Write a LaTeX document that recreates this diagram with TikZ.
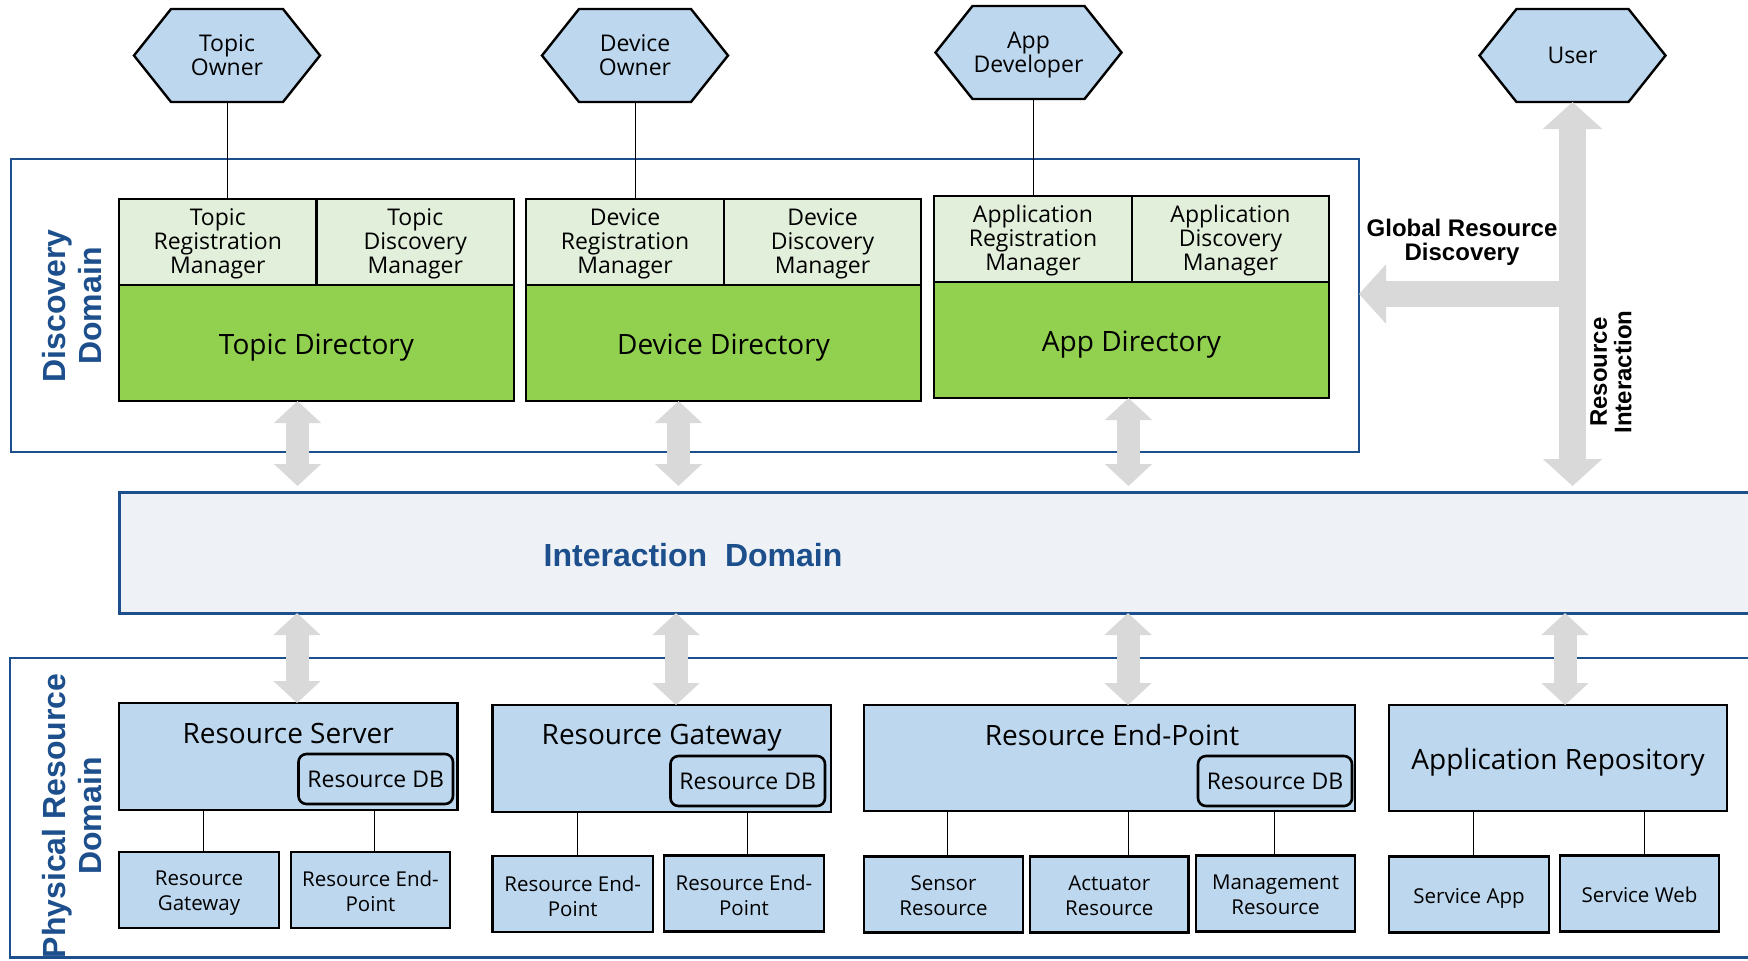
\documentclass[tikz,border=0pt]{standalone}
\usepackage{fontspec}
\setmainfont{Open Sans}
\newfontfamily\labelfont{Liberation Sans}
\usetikzlibrary{arrows.meta}

\definecolor{actorblue}{HTML}{BDD7EE}
\definecolor{mgrgreen}{HTML}{E2EFDA}
\definecolor{dirgreen}{HTML}{92D050}
\definecolor{domblue}{HTML}{1C4F8C}
\definecolor{intfill}{HTML}{EEF2F6}
\definecolor{arrowgray}{HTML}{D9D9D9}

% flat-topped hexagon actor: name, centre x, centre y, text
\newcommand\hexactor[4]{%
  \filldraw[hexshape] (#2-93,#3) -- (#2-56,#3-46.5) -- (#2+56,#3-46.5) -- (#2+93,#3)
    -- (#2+56,#3+46.5) -- (#2-56,#3+46.5) -- cycle;
  \node[hextext] (#1) at (#2,#3) {#4};}

\begin{document}
\begin{tikzpicture}[x=0.5pt, y=-0.5pt,
  hexshape/.style={draw=black, line width=1.2pt, fill=actorblue, line join=miter},
  hextext/.style={minimum width=93pt, minimum height=46.5pt, inner sep=0pt, outer sep=0pt,
    align=center, font=\fontsize{11.5}{12}\selectfont},
  mgr/.style={draw=black, line width=1.3pt, fill=mgrgreen, inner sep=0pt, outer sep=0pt,
    align=center, minimum height=43pt, font=\fontsize{11.5}{12}\selectfont},
  mgrtext/.style={inner sep=0pt, align=center, font=\fontsize{11.5}{12}\selectfont},
  directory/.style={draw=black, line width=1.3pt, fill=dirgreen, inner sep=0pt, outer sep=0pt,
    minimum width=197.5pt, minimum height=58pt},
  dirtext/.style={inner sep=0pt, font=\fontsize{14}{16}\selectfont},
  pbox/.style={draw=black, line width=1.3pt, fill=actorblue, inner sep=0pt, outer sep=0pt,
    minimum height=53.5pt},
  ptitle/.style={inner sep=0pt, font=\fontsize{14}{16}\selectfont},
  dbbox/.style={draw=black, line width=1.3pt, fill=actorblue, rounded corners=4pt,
    inner sep=0pt, outer sep=0pt, minimum width=77.25pt, minimum height=25pt,
    font=\fontsize{11.5}{12}\selectfont},
  subbox/.style={draw=black, line width=1.3pt, fill=actorblue, inner sep=0pt, outer sep=0pt,
    minimum width=80pt, minimum height=38pt},
  subtext/.style={inner sep=0pt, align=center, font=\fontsize{10.25}{12.5}\selectfont},
  domainbox/.style={draw=domblue, line width=1.15pt, inner sep=0pt, outer sep=0pt},
  domtext/.style={text=domblue, align=center, inner sep=0pt,
    font=\labelfont\bfseries\fontsize{16}{18}\selectfont},
  blacklabel/.style={align=center, inner sep=0pt,
    font=\labelfont\bfseries\fontsize{12}{12.2}\selectfont},
  link/.style={draw=black, line width=0.5pt},
  bigarrow/.style={draw=arrowgray, line width=13.5pt,
    {Triangle[length=13.5pt,width=29pt]}-{Triangle[length=13.5pt,width=29pt]}},
  sidearrow/.style={draw=arrowgray, line width=13pt, -{Triangle[length=13.5pt,width=29pt]}},
  midarrow/.style={draw=arrowgray, line width=11.5pt,
    {Triangle[length=11pt,width=23pt]}-{Triangle[length=11pt,width=23pt]}}
]
\useasboundingbox (0,0) rectangle (1748,960);

% ---------- domains ----------
\node[domainbox, minimum width=674.15pt, minimum height=146.5pt] (disc) at (684.85,305.5) {};
\node[domtext, rotate=90] (disc-t) at (72,306) {Discovery\\Domain};

\node[domainbox, line width=1.5pt, fill=intfill,
      minimum width=820.5pt, minimum height=60.5pt] (inter) at (939.5,552.5) {};
\node[text=domblue, inner sep=0pt, font=\labelfont\bfseries\fontsize{16}{18}\selectfont]
      (inter-t) at (693,555) {Interaction\ \ Domain};

\node[domainbox, minimum width=875pt, minimum height=149.75pt] (phys) at (885,807.75) {};
\node[domtext, rotate=90] (phys-t) at (72,816) {Physical Resource\\Domain};

% ---------- actors ----------
\hexactor{topicowner}{227}{55.5}{Topic\\Owner}
\hexactor{devowner}{635}{55.5}{Device\\Owner}
\hexactor{appdev}{1028.5}{52.5}{}
\node[hextext, minimum width=0pt, minimum height=0pt] (appdev-t) at (1028.5,55) {App\\Developer};
\hexactor{user}{1572.5}{55.5}{User}

% ---------- directories and managers ----------
\node[mgr, minimum width=98.75pt] (topicreg) at (217.75,242) {};
\node[mgr, minimum width=98.75pt] (topicdisc) at (415.25,242) {};
\node[directory] (topicdir) at (316.5,343) {};
\node[mgrtext] (topicreg-t) at (217.75,244) {Topic\\Registration\\Manager};
\node[mgrtext] (topicdisc-t) at (415.25,244) {Topic\\Discovery\\Manager};
\node[dirtext] (topicdir-t) at (316.5,347.5) {Topic Directory};

\node[mgr, minimum width=99pt] (devreg) at (625,242) {};
\node[mgr, minimum width=98.5pt] (devdisc) at (822.5,242) {};
\node[directory] (devdir) at (723.5,343) {};
\node[mgrtext] (devreg-t) at (625,244) {Device\\Registration\\Manager};
\node[mgrtext] (devdisc-t) at (822.5,244) {Device\\Discovery\\Manager};
\node[dirtext] (devdir-t) at (723.5,347.5) {Device Directory};

\node[mgr, minimum width=99pt] (appreg) at (1033,239) {};
\node[mgr, minimum width=98.5pt] (appdisc) at (1230.5,239) {};
\node[directory] (appdir) at (1131.5,340) {};
\node[mgrtext] (appreg-t) at (1033,241) {Application\\Registration\\Manager};
\node[mgrtext] (appdisc-t) at (1230.5,241) {Application\\Discovery\\Manager};
\node[dirtext] (appdir-t) at (1131.5,344.5) {App Directory};

\draw[link] (topicowner.south) -- (topicowner.south |- topicreg.north);
\draw[link] (devowner.south) -- (devowner.south |- devreg.north);
\draw[link] (appreg.north) -- (appreg.north |- appdev.south);

% ---------- physical resources ----------
\node[pbox, minimum width=169.25pt] (rs) at (288.25,756.5) {};
\node[ptitle] (rs-t) at (288.25,733) {Resource Server};
\node[dbbox] (rs-db) at (375.75,779) {Resource DB};

\node[pbox, minimum width=169.25pt] (rg) at (661.75,758.5) {};
\node[ptitle] (rg-t) at (661.75,737.5) {Resource Gateway};
\node[dbbox] (rg-db) at (747.75,781) {Resource DB};

\node[pbox, minimum width=245.5pt, minimum height=53pt] (rep) at (1109.5,758) {};
\node[ptitle] (rep-t) at (1112,734.5) {Resource End-Point};
\node[dbbox, minimum width=77pt] (rep-db) at (1275,781) {Resource DB};

\node[pbox, minimum width=169pt, minimum height=53pt] (ar) at (1558,758) {};
\node[ptitle] (ar-t) at (1558,762.5) {Application Repository};

\node[subbox] (rs-gw) at (199,890) {};
\node[subbox, minimum width=79.5pt] (rs-ep) at (370.5,890) {};
\node[subbox, minimum width=80.25pt] (rg-ep1) at (572.75,894) {};
\node[subbox] (rg-ep2) at (744,893.5) {};
\node[subbox, minimum width=79.5pt] (sensor) at (943.5,894.5) {};
\node[subbox, minimum width=79.25pt] (actuator) at (1109.25,894.5) {};
\node[subbox, minimum width=79.5pt] (mgmt) at (1275.5,893.5) {};
\node[subbox] (svcapp) at (1469,894.5) {};
\node[subbox, minimum width=79.5pt] (svcweb) at (1639.5,893.5) {};

\node[subtext] (rs-gw-t) at (199,893) {Resource\\Gateway};
\node[subtext] (rs-ep-t) at (370.5,891.5) {Resource End-\\Point};
\node[subtext] (rg-ep1-t) at (572.75,896) {Resource End-\\Point};
\node[subtext] (rg-ep2-t) at (744,895) {Resource End-\\Point};
\node[subtext] (sensor-t) at (943.5,895.5) {Sensor\\Resource};
\node[subtext] (actuator-t) at (1109.25,895.5) {Actuator\\Resource};
\node[subtext] (mgmt-t) at (1275.5,894.5) {Management\\Resource};
\node[subtext] (svcapp-t) at (1469,898) {Service App};
\node[subtext] (svcweb-t) at (1639.5,895) {Service Web};

\draw[link] (203,0 |- rs.south) -- (203,0 |- rs-gw.north);
\draw[link] (374,0 |- rs.south) -- (374,0 |- rs-ep.north);
\draw[link] (577,0 |- rg.south) -- (577,0 |- rg-ep1.north);
\draw[link] (747,0 |- rg.south) -- (747,0 |- rg-ep2.north);
\draw[link] (947,0 |- rep.south) -- (947,0 |- sensor.north);
\draw[link] (1128,0 |- rep.south) -- (1128,0 |- actuator.north);
\draw[link] (1274,0 |- rep.south) -- (1274,0 |- mgmt.north);
\draw[link] (1473,0 |- ar.south) -- (1473,0 |- svcapp.north);
\draw[link] (1644,0 |- ar.south) -- (1644,0 |- svcweb.north);

% ---------- interaction arrows ----------
\coordinate (itop) at ([yshift=3pt]inter.north);
\draw[midarrow] (297.5,0 |- topicdir.south) -- (297.5,0 |- itop);
\draw[midarrow] (678.5,0 |- devdir.south) -- (678.5,0 |- itop);
\draw[midarrow] (1128.5,0 |- appdir.south) -- (1128.5,0 |- itop);

\draw[midarrow] (297,0 |- inter.south) -- (297,0 |- rs.north);
\draw[midarrow] (676,0 |- inter.south) -- (676,0 |- rg.north);
\draw[midarrow] (1128,0 |- inter.south) -- (1128,0 |- rep.north);
\draw[midarrow] (1565,0 |- inter.south) -- (1565,0 |- ar.north);

\coordinate (branch) at (1572,294);
\draw[bigarrow] (user.south) -- (user.south |- itop);
\draw[sidearrow] (branch) -- (disc.east |- branch);

\node[blacklabel] (grd) at (1462,242) {Global Resource\\Discovery};
\node[blacklabel, rotate=90] (ri) at (1611,372) {Resource\\Interaction};
\end{tikzpicture}
\end{document}
